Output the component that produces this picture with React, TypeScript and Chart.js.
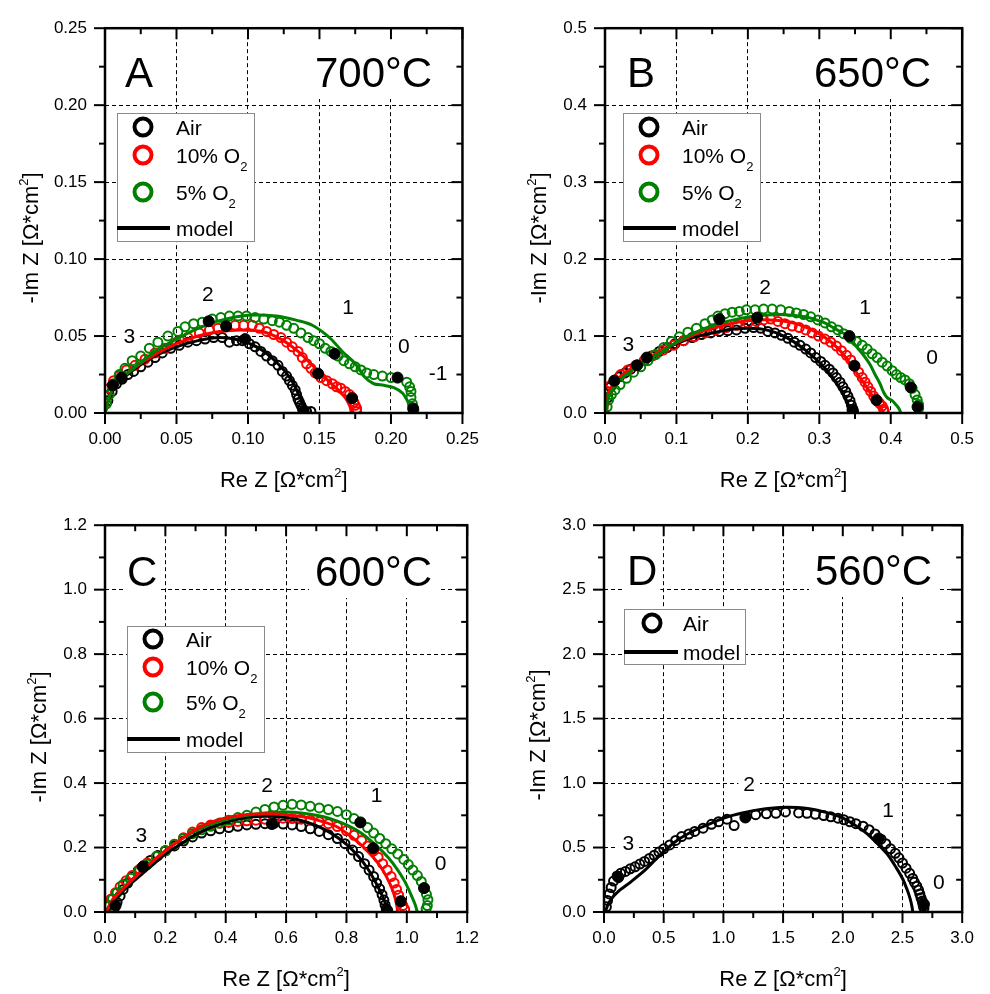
import React, { useEffect, useRef } from 'react';
import { Chart, registerables } from 'chart.js';

Chart.register(...registerables);

type Pt = [number, number];
type Seg = { t: string; s?: 'sup' | 'sub' };

const FONT = '"Liberation Sans", Arial, Helvetica, sans-serif';
const BLACK = '#000000';
const RED = '#ff0000';
const GREEN = '#008000';
const W = 495;
const H = 497;

// ---------------- Panel A : 700 °C ----------------
const aTicksX = ['0.00', '0.05', '0.10', '0.15', '0.20', '0.25'];
const aTicksY = ['0.00', '0.05', '0.10', '0.15', '0.20', '0.25'];
const aAir: Pt[] = [
  [0.002, 0.008], [0.005, 0.014], [0.008, 0.019], [0.012, 0.022], [0.016, 0.025], [0.02, 0.027], [0.025, 0.03],
  [0.03, 0.033], [0.035, 0.036], [0.04, 0.039], [0.046, 0.042], [0.052, 0.044], [0.058, 0.046], [0.064, 0.047],
  [0.07, 0.048], [0.076, 0.049], [0.082, 0.049], [0.087, 0.046], [0.092, 0.047], [0.096, 0.047], [0.101, 0.045],
  [0.105, 0.043], [0.109, 0.04], [0.113, 0.037], [0.117, 0.034], [0.121, 0.031], [0.124, 0.027], [0.127, 0.024],
  [0.129, 0.021], [0.131, 0.018], [0.133, 0.015], [0.134, 0.012], [0.135, 0.009], [0.136, 0.007], [0.137, 0.005],
  [0.138, 0.003], [0.139, 0.001], [0.141, 0.001], [0.144, 0.001],
];
const aO2_10: Pt[] = [
  [0.003, 0.016], [0.006, 0.021], [0.01, 0.024], [0.015, 0.028], [0.021, 0.031], [0.028, 0.035], [0.035, 0.039],
  [0.042, 0.042], [0.05, 0.046], [0.058, 0.049], [0.066, 0.052], [0.073, 0.054], [0.079, 0.055], [0.085, 0.056],
  [0.091, 0.057], [0.097, 0.057], [0.103, 0.057], [0.108, 0.055], [0.113, 0.053], [0.118, 0.051], [0.123, 0.049],
  [0.127, 0.046], [0.131, 0.043], [0.135, 0.04], [0.138, 0.036], [0.141, 0.032], [0.144, 0.029], [0.147, 0.026],
  [0.151, 0.023], [0.155, 0.021], [0.159, 0.019], [0.162, 0.017], [0.165, 0.016], [0.168, 0.014], [0.171, 0.012],
  [0.173, 0.01], [0.174, 0.007], [0.175, 0.005], [0.176, 0.003], [0.176, 0.001],
];
const aO2_5: Pt[] = [
  [0.001, 0.006], [0.003, 0.012], [0.006, 0.019], [0.01, 0.025], [0.014, 0.029], [0.019, 0.034], [0.025, 0.037],
  [0.031, 0.042], [0.037, 0.046], [0.044, 0.05], [0.051, 0.053], [0.056, 0.056], [0.062, 0.058], [0.068, 0.059],
  [0.075, 0.061], [0.081, 0.062], [0.087, 0.063], [0.093, 0.063], [0.099, 0.063], [0.105, 0.062], [0.111, 0.061],
  [0.117, 0.06], [0.122, 0.059], [0.127, 0.057], [0.132, 0.055], [0.137, 0.052], [0.142, 0.049], [0.146, 0.047],
  [0.15, 0.045], [0.154, 0.042], [0.158, 0.04], [0.163, 0.037], [0.167, 0.034], [0.171, 0.032], [0.175, 0.03],
  [0.179, 0.028], [0.183, 0.026], [0.188, 0.025], [0.194, 0.024], [0.2, 0.023], [0.211, 0.02], [0.213, 0.017],
  [0.214, 0.014], [0.214, 0.01], [0.215, 0.006], [0.216, 0.002],
];
const aModelAir: Pt[] = [
  [0, 0], [0.004, 0.012], [0.01, 0.02], [0.02, 0.028], [0.035, 0.037], [0.05, 0.043], [0.065, 0.047], [0.08, 0.049],
  [0.095, 0.047], [0.108, 0.042], [0.12, 0.033], [0.13, 0.022], [0.136, 0.011], [0.139, 0.004], [0.14, 0],
];
const aModel10: Pt[] = [
  [0, 0], [0.004, 0.013], [0.01, 0.021], [0.02, 0.029], [0.035, 0.038], [0.05, 0.045], [0.065, 0.05], [0.08, 0.053],
  [0.095, 0.054], [0.11, 0.053], [0.123, 0.048], [0.135, 0.04], [0.145, 0.031], [0.155, 0.022], [0.163, 0.015],
  [0.168, 0.01], [0.171, 0.005], [0.172, 0.002], [0.172, 0],
];
const aModel5: Pt[] = [
  [0, 0], [0.004, 0.013], [0.01, 0.021], [0.02, 0.029], [0.035, 0.04], [0.05, 0.048], [0.065, 0.055], [0.08, 0.06],
  [0.1, 0.0635], [0.12, 0.063], [0.135, 0.06], [0.145, 0.057], [0.157, 0.049], [0.166, 0.04], [0.175, 0.032],
  [0.182, 0.023], [0.188, 0.019], [0.195, 0.018], [0.202, 0.0165], [0.208, 0.013], [0.212, 0.007], [0.214, 0.002],
  [0.215, 0],
];
const aDecades: Pt[] = [
  [0.0054, 0.018], [0.0115, 0.023], [0.0725, 0.0596], [0.0847, 0.0564], [0.098, 0.048], [0.149, 0.0256],
  [0.1606, 0.0385], [0.1728, 0.0096], [0.2046, 0.023], [0.2155, 0.003], [0.139, 0.001],
];
const aNotes: [string, number, number][] = [
  ['3', 0.017, 0.05], ['2', 0.072, 0.077], ['1', 0.17, 0.069], ['0', 0.209, 0.0436], ['-1', 0.233, 0.0256],
];

// ---------------- Panel B : 650 °C ----------------
const bTicksX = ['0.0', '0.1', '0.2', '0.3', '0.4', '0.5'];
const bTicksY = ['0.0', '0.1', '0.2', '0.3', '0.4', '0.5'];
const bAir: Pt[] = [
  [0.004, 0.02], [0.008, 0.034], [0.013, 0.041], [0.02, 0.047], [0.028, 0.052], [0.036, 0.057], [0.045, 0.062],
  [0.055, 0.068], [0.065, 0.074], [0.076, 0.08], [0.087, 0.085], [0.098, 0.09], [0.11, 0.094], [0.122, 0.098],
  [0.135, 0.102], [0.148, 0.104], [0.16, 0.106], [0.172, 0.107], [0.184, 0.108], [0.196, 0.11], [0.208, 0.111],
  [0.218, 0.11], [0.228, 0.106], [0.238, 0.104], [0.247, 0.101], [0.256, 0.097], [0.265, 0.092], [0.273, 0.088],
  [0.281, 0.083], [0.288, 0.078], [0.295, 0.072], [0.302, 0.067], [0.308, 0.062], [0.314, 0.057], [0.319, 0.052],
  [0.324, 0.046], [0.329, 0.04], [0.333, 0.034], [0.337, 0.028], [0.34, 0.022], [0.343, 0.016], [0.345, 0.01],
  [0.347, 0.005], [0.348, 0.001],
];
const bO2_10: Pt[] = [
  [0.004, 0.028], [0.008, 0.036], [0.014, 0.043], [0.022, 0.05], [0.032, 0.056], [0.043, 0.062], [0.055, 0.068],
  [0.068, 0.075], [0.082, 0.082], [0.096, 0.088], [0.11, 0.094], [0.125, 0.099], [0.14, 0.104], [0.155, 0.108],
  [0.17, 0.111], [0.185, 0.114], [0.2, 0.117], [0.212, 0.119], [0.222, 0.121], [0.232, 0.122], [0.242, 0.119],
  [0.252, 0.116], [0.262, 0.113], [0.272, 0.111], [0.281, 0.108], [0.29, 0.104], [0.299, 0.1], [0.308, 0.096],
  [0.316, 0.092], [0.324, 0.087], [0.331, 0.081], [0.338, 0.075], [0.344, 0.069], [0.35, 0.061], [0.355, 0.053],
  [0.36, 0.046], [0.364, 0.04], [0.368, 0.034], [0.372, 0.028], [0.376, 0.022], [0.38, 0.017], [0.384, 0.013],
  [0.388, 0.009], [0.39, 0.005], [0.391, 0.002],
];
const bO2_5: Pt[] = [
  [0.003, 0.008], [0.005, 0.017], [0.009, 0.024], [0.014, 0.03], [0.021, 0.037], [0.03, 0.045], [0.04, 0.053],
  [0.05, 0.06], [0.06, 0.068], [0.071, 0.076], [0.082, 0.085], [0.093, 0.093], [0.104, 0.099], [0.116, 0.105],
  [0.128, 0.11], [0.14, 0.116], [0.15, 0.121], [0.158, 0.126], [0.168, 0.129], [0.178, 0.131], [0.188, 0.132],
  [0.198, 0.134], [0.21, 0.134], [0.222, 0.135], [0.234, 0.135], [0.246, 0.134], [0.258, 0.132], [0.268, 0.13],
  [0.278, 0.128], [0.288, 0.125], [0.298, 0.121], [0.308, 0.117], [0.317, 0.112], [0.326, 0.108], [0.334, 0.103],
  [0.344, 0.097], [0.352, 0.093], [0.36, 0.088], [0.367, 0.083], [0.374, 0.077], [0.381, 0.072], [0.388, 0.066],
  [0.395, 0.061], [0.402, 0.055], [0.408, 0.05], [0.414, 0.046], [0.42, 0.043], [0.426, 0.038], [0.43, 0.032],
  [0.434, 0.024], [0.437, 0.017], [0.439, 0.011], [0.439, 0.006],
];
const bModelAir: Pt[] = [
  [0.002, 0], [0.004, 0.02], [0.01, 0.034], [0.02, 0.045], [0.04, 0.058], [0.06, 0.07], [0.08, 0.081], [0.1, 0.09],
  [0.12, 0.097], [0.14, 0.102], [0.16, 0.106], [0.18, 0.109], [0.2, 0.11], [0.22, 0.109], [0.24, 0.104],
  [0.26, 0.095], [0.28, 0.082], [0.3, 0.066], [0.315, 0.05], [0.328, 0.033], [0.337, 0.018], [0.342, 0.007],
  [0.344, 0],
];
const bModel10: Pt[] = [
  [0.002, 0], [0.004, 0.022], [0.01, 0.035], [0.02, 0.046], [0.04, 0.06], [0.06, 0.071], [0.08, 0.082], [0.1, 0.091],
  [0.125, 0.102], [0.15, 0.11], [0.175, 0.116], [0.2, 0.12], [0.23, 0.121], [0.26, 0.118], [0.285, 0.11],
  [0.308, 0.098], [0.325, 0.085], [0.338, 0.071], [0.35, 0.055], [0.36, 0.042], [0.368, 0.031], [0.376, 0.02],
  [0.383, 0.011], [0.388, 0.004], [0.39, 0],
];
const bModel5: Pt[] = [
  [0.002, 0], [0.004, 0.018], [0.01, 0.03], [0.02, 0.042], [0.04, 0.057], [0.06, 0.069], [0.08, 0.08], [0.1, 0.092],
  [0.125, 0.104], [0.155, 0.115], [0.18, 0.121], [0.21, 0.126], [0.245, 0.128], [0.28, 0.125], [0.305, 0.118],
  [0.325, 0.108], [0.34, 0.1], [0.353, 0.085], [0.362, 0.075], [0.371, 0.063], [0.378, 0.05], [0.385, 0.038],
  [0.39, 0.027], [0.395, 0.02], [0.402, 0.016], [0.408, 0.01], [0.412, 0.005], [0.414, 0],
];
const bDecades: Pt[] = [
  [0.013, 0.042], [0.045, 0.062], [0.0584, 0.072], [0.16, 0.122], [0.213, 0.124], [0.342, 0.1], [0.349, 0.0615],
  [0.38, 0.0167], [0.428, 0.0333], [0.4375, 0.008], [0.3465, 0.004],
];
const bNotes: [string, number, number][] = [
  ['3', 0.0326, 0.0897], ['2', 0.224, 0.164], ['1', 0.364, 0.137], ['0', 0.458, 0.073],
];

// ---------------- Panel C : 600 °C ----------------
const cTicksX = ['0.0', '0.2', '0.4', '0.6', '0.8', '1.0', '1.2'];
const cTicksY = ['0.0', '0.2', '0.4', '0.6', '0.8', '1.0', '1.2'];
const cAir: Pt[] = [
  [0.03, 0.01], [0.04, 0.03], [0.05, 0.05], [0.06, 0.07], [0.075, 0.09], [0.09, 0.11], [0.11, 0.128], [0.13, 0.145],
  [0.15, 0.16], [0.175, 0.175], [0.2, 0.19], [0.23, 0.205], [0.26, 0.22], [0.29, 0.233], [0.32, 0.245],
  [0.35, 0.252], [0.38, 0.258], [0.41, 0.262], [0.44, 0.266], [0.47, 0.27], [0.5, 0.272], [0.53, 0.274],
  [0.56, 0.275], [0.59, 0.273], [0.62, 0.27], [0.65, 0.265], [0.68, 0.258], [0.71, 0.25], [0.74, 0.24],
  [0.77, 0.228], [0.795, 0.212], [0.82, 0.192], [0.84, 0.172], [0.86, 0.15], [0.875, 0.13], [0.89, 0.11],
  [0.9, 0.09], [0.91, 0.072], [0.918, 0.054], [0.924, 0.037], [0.928, 0.022], [0.932, 0.01],
];
const cO2_10: Pt[] = [
  [0.01, 0.02], [0.02, 0.04], [0.035, 0.06], [0.05, 0.078], [0.07, 0.097], [0.09, 0.113], [0.115, 0.133],
  [0.14, 0.152], [0.17, 0.172], [0.2, 0.19], [0.23, 0.21], [0.26, 0.23], [0.29, 0.248], [0.32, 0.262], [0.35, 0.27],
  [0.38, 0.275], [0.41, 0.278], [0.44, 0.281], [0.47, 0.283], [0.5, 0.285], [0.53, 0.288], [0.56, 0.29],
  [0.59, 0.291], [0.62, 0.29], [0.65, 0.288], [0.68, 0.285], [0.71, 0.28], [0.74, 0.274], [0.77, 0.265],
  [0.8, 0.252], [0.825, 0.238], [0.85, 0.222], [0.87, 0.205], [0.89, 0.19], [0.905, 0.17], [0.92, 0.15],
  [0.935, 0.13], [0.948, 0.11], [0.958, 0.09], [0.966, 0.07], [0.973, 0.052], [0.98, 0.035], [0.987, 0.02],
  [0.993, 0.008],
];
const cO2_5: Pt[] = [
  [0.015, 0.02], [0.025, 0.04], [0.04, 0.06], [0.06, 0.085], [0.085, 0.105], [0.11, 0.125], [0.14, 0.148],
  [0.17, 0.172], [0.2, 0.19], [0.23, 0.21], [0.26, 0.228], [0.29, 0.243], [0.32, 0.255], [0.35, 0.266],
  [0.38, 0.276], [0.41, 0.285], [0.44, 0.293], [0.47, 0.3], [0.5, 0.31], [0.53, 0.318], [0.56, 0.326],
  [0.59, 0.331], [0.62, 0.334], [0.65, 0.332], [0.68, 0.328], [0.71, 0.323], [0.74, 0.318], [0.77, 0.312],
  [0.8, 0.302], [0.825, 0.29], [0.848, 0.278], [0.87, 0.262], [0.89, 0.245], [0.91, 0.228], [0.93, 0.212],
  [0.95, 0.196], [0.97, 0.18], [0.99, 0.163], [1.005, 0.147], [1.02, 0.13], [1.035, 0.113], [1.048, 0.095],
  [1.058, 0.075], [1.065, 0.055], [1.07, 0.038], [1.068, 0.02], [1.064, 0.01],
];
const cModelAir: Pt[] = [
  [0.01, 0], [0.02, 0.02], [0.04, 0.045], [0.07, 0.075], [0.1, 0.1], [0.15, 0.14], [0.2, 0.18], [0.25, 0.21],
  [0.3, 0.24], [0.35, 0.262], [0.4, 0.278], [0.45, 0.29], [0.5, 0.296], [0.55, 0.297], [0.6, 0.293], [0.65, 0.284],
  [0.7, 0.268], [0.75, 0.244], [0.8, 0.21], [0.84, 0.172], [0.87, 0.135], [0.895, 0.095], [0.915, 0.058],
  [0.93, 0.025], [0.938, 0],
];
const cModel10: Pt[] = [
  [0.005, 0], [0.015, 0.02], [0.03, 0.042], [0.06, 0.072], [0.1, 0.108], [0.15, 0.15], [0.2, 0.19], [0.25, 0.225],
  [0.3, 0.256], [0.35, 0.278], [0.4, 0.292], [0.45, 0.3], [0.5, 0.304], [0.55, 0.305], [0.6, 0.302], [0.65, 0.296],
  [0.7, 0.286], [0.765, 0.266], [0.81, 0.238], [0.852, 0.205], [0.89, 0.168], [0.917, 0.135], [0.935, 0.105],
  [0.95, 0.075], [0.96, 0.048], [0.966, 0.024], [0.97, 0],
];
const cModel5: Pt[] = [
  [0.005, 0], [0.015, 0.022], [0.03, 0.045], [0.06, 0.075], [0.1, 0.11], [0.15, 0.152], [0.2, 0.19], [0.25, 0.224],
  [0.3, 0.252], [0.35, 0.272], [0.4, 0.287], [0.45, 0.297], [0.5, 0.304], [0.55, 0.309], [0.6, 0.31],
  [0.65, 0.307], [0.7, 0.3], [0.744, 0.29], [0.8, 0.27], [0.852, 0.243], [0.9, 0.205], [0.939, 0.168],
  [0.97, 0.13], [0.993, 0.095], [1.01, 0.062], [1.026, 0.027], [1.035, 0],
];
const cDecades: Pt[] = [
  [0.035, 0.02], [0.125, 0.14], [0.553, 0.273], [0.846, 0.278], [0.888, 0.198], [0.98, 0.033], [1.057, 0.074],
  [0.935, 0.005],
];
const cNotes: [string, number, number][] = [
  ['3', 0.12, 0.238], ['2', 0.537, 0.392], ['1', 0.9, 0.361], ['0', 1.112, 0.151],
];

// ---------------- Panel D : 560 °C ----------------
const dTicksX = ['0.0', '0.5', '1.0', '1.5', '2.0', '2.5', '3.0'];
const dTicksY = ['0.0', '0.5', '1.0', '1.5', '2.0', '2.5', '3.0'];
const dAir: Pt[] = [
  [0.02, 0.04], [0.03, 0.09], [0.045, 0.14], [0.06, 0.19], [0.08, 0.24], [0.11, 0.28], [0.14, 0.3], [0.18, 0.315],
  [0.22, 0.335], [0.26, 0.35], [0.3, 0.372], [0.34, 0.392], [0.38, 0.415], [0.42, 0.44], [0.46, 0.465],
  [0.5, 0.49], [0.55, 0.52], [0.6, 0.555], [0.65, 0.585], [0.71, 0.605], [0.76, 0.625], [0.83, 0.65], [0.9, 0.68],
  [0.96, 0.7], [1.03, 0.72], [1.09, 0.67], [1.19, 0.737], [1.27, 0.755], [1.36, 0.762], [1.44, 0.765],
  [1.52, 0.776], [1.63, 0.768], [1.7, 0.765], [1.77, 0.758], [1.84, 0.748], [1.9, 0.738], [1.96, 0.728],
  [2.01, 0.715], [2.06, 0.7], [2.11, 0.685], [2.17, 0.665], [2.22, 0.638], [2.27, 0.605], [2.32, 0.565],
  [2.36, 0.53], [2.4, 0.49], [2.44, 0.455], [2.47, 0.42], [2.5, 0.38], [2.53, 0.34], [2.56, 0.3], [2.585, 0.26],
  [2.6, 0.23], [2.62, 0.2], [2.635, 0.17], [2.645, 0.14], [2.655, 0.11], [2.665, 0.085], [2.67, 0.065],
  [2.675, 0.045], [2.68, 0.03],
];
const dModelAir: Pt[] = [
  [0.01, 0], [0.03, 0.05], [0.06, 0.1], [0.12, 0.16], [0.22, 0.23], [0.35, 0.33], [0.49, 0.46], [0.62, 0.56],
  [0.76, 0.634], [0.9, 0.69], [1.03, 0.737], [1.17, 0.77], [1.3, 0.794], [1.42, 0.807], [1.52, 0.812],
  [1.62, 0.81], [1.72, 0.8], [1.85, 0.775], [1.98, 0.737], [2.1, 0.675], [2.2, 0.61], [2.3, 0.52], [2.38, 0.44],
  [2.45, 0.34], [2.5, 0.26], [2.54, 0.17], [2.565, 0.1], [2.58, 0.04], [2.586, 0],
];
const dDecades: Pt[] = [[0.12, 0.27], [1.184, 0.733], [2.3, 0.57], [2.68, 0.06]];
const dNotes: [string, number, number][] = [
  ['3', 0.203, 0.532], ['2', 1.216, 0.988], ['1', 2.38, 0.787], ['0', 2.805, 0.23],
];

// ---------------- labels ----------------
const LBL_AIR: Seg[] = [{ t: 'Air' }];
const LBL_10: Seg[] = [{ t: '10% O' }, { t: '2', s: 'sub' }];
const LBL_5: Seg[] = [{ t: '5% O' }, { t: '2', s: 'sub' }];
const LBL_MODEL: Seg[] = [{ t: 'model' }];
const X_TITLE: Seg[] = [{ t: 'Re Z [Ω*cm' }, { t: '2', s: 'sup' }, { t: ']' }];
const Y_TITLE: Seg[] = [{ t: '-Im Z [Ω*cm' }, { t: '2', s: 'sup' }, { t: ']' }];

function drawSegs(ctx: CanvasRenderingContext2D, segs: Seg[], x: number, y: number, size: number, align: 'left' | 'center') {
  const small = Math.round(size * 0.6);
  const widths = segs.map((g) => {
    ctx.font = `${g.s ? small : size}px ${FONT}`;
    return ctx.measureText(g.t).width;
  });
  const total = widths.reduce((a, b) => a + b, 0);
  let cx = align === 'center' ? x - total / 2 : x;
  ctx.textAlign = 'left';
  ctx.textBaseline = 'alphabetic';
  segs.forEach((g, i) => {
    ctx.font = `${g.s ? small : size}px ${FONT}`;
    const dy = g.s === 'sup' ? -size * 0.45 : g.s === 'sub' ? size * 0.42 : 0;
    ctx.fillText(g.t, cx, y + dy);
    cx += widths[i];
  });
}

const legend3 = (x: number, y: number, dys: number[]) => ({
  x, y, w: 137, h: dys[3] + 13, cx: 26, tx: 59, lineEnd: 53,
  items: [
    { kind: 'pt', color: BLACK, label: LBL_AIR, dy: dys[0] },
    { kind: 'pt', color: RED, label: LBL_10, dy: dys[1] },
    { kind: 'pt', color: GREEN, label: LBL_5, dy: dys[2] },
    { kind: 'line', label: LBL_MODEL, dy: dys[3] },
  ],
});

const panels = [
  {
    id: 'A', left: 0, top: 0, plot: { l: 105, t: 23, r: 474, b: 413 },
    xMax: 0.25, yMax: 0.25, xStep: 0.05, yStep: 0.05, xTicks: aTicksX, yTicks: aTicksY,
    letter: 'A', temp: '700°C', letterX: 125, tempX: 315, baseY: 87,
    series: [{ color: BLACK, pts: aAir }, { color: RED, pts: aO2_10 }, { color: GREEN, pts: aO2_5 }],
    models: [{ color: GREEN, pts: aModel5 }, { color: RED, pts: aModel10 }, { color: BLACK, pts: aModelAir }],
    markers: aDecades, notes: aNotes,
    legend: legend3(117, 113, [14, 42, 79, 115]),
    yTitleX: 38, yTitleY: 238,
  },
  {
    id: 'B', left: 495, top: 0, plot: { l: 110, t: 23, r: 478, b: 413 },
    xMax: 0.5, yMax: 0.5, xStep: 0.1, yStep: 0.1, xTicks: bTicksX, yTicks: bTicksY,
    letter: 'B', temp: '650°C', letterX: 132, tempX: 319, baseY: 87,
    series: [{ color: BLACK, pts: bAir }, { color: RED, pts: bO2_10 }, { color: GREEN, pts: bO2_5 }],
    models: [{ color: GREEN, pts: bModel5 }, { color: RED, pts: bModel10 }, { color: BLACK, pts: bModelAir }],
    markers: bDecades, notes: bNotes,
    legend: legend3(128, 113, [14, 42, 79, 115]),
    yTitleX: 51, yTitleY: 238,
  },
  {
    id: 'C', left: 0, top: 497, plot: { l: 105, t: 26, r: 474, b: 415 },
    xMax: 1.2, yMax: 1.2, xStep: 0.2, yStep: 0.2, xTicks: cTicksX, yTicks: cTicksY,
    letter: 'C', temp: '600°C', letterX: 127, tempX: 315, baseY: 89,
    series: [{ color: BLACK, pts: cAir }, { color: RED, pts: cO2_10 }, { color: GREEN, pts: cO2_5 }],
    models: [{ color: RED, pts: cModel10 }, { color: GREEN, pts: cModel5 }, { color: BLACK, pts: cModelAir }],
    markers: cDecades, notes: cNotes,
    legend: legend3(127, 129, [13, 41, 76, 113]),
    yTitleX: 46, yTitleY: 240,
  },
  {
    id: 'D', left: 495, top: 497, plot: { l: 109, t: 26, r: 478, b: 415 },
    xMax: 3.0, yMax: 3.0, xStep: 0.5, yStep: 0.5, xTicks: dTicksX, yTicks: dTicksY,
    letter: 'D', temp: '560°C', letterX: 132, tempX: 320, baseY: 88,
    series: [{ color: BLACK, pts: dAir }],
    models: [{ color: BLACK, pts: dModelAir }],
    markers: dDecades, notes: dNotes,
    legend: {
      x: 129, y: 112, w: 121, h: 55, cx: 28, tx: 59, lineEnd: 54,
      items: [{ kind: 'pt', color: BLACK, label: LBL_AIR, dy: 14 }, { kind: 'line', label: LBL_MODEL, dy: 43 }],
    },
    yTitleX: 50, yTitleY: 238,
  },
];

const toXY = (pts: Pt[]) => pts.map(([x, y]) => ({ x, y }));

function makePlugin(p: any) {
  return {
    id: 'deco' + p.id,
    beforeDatasetsDraw(chart: any) {
      const ctx: CanvasRenderingContext2D = chart.ctx;
      const ca = chart.chartArea;
      const xs = chart.scales.x;
      const ys = chart.scales.y;
      ctx.save();
      ctx.font = `42px ${FONT}`;
      const tw = ctx.measureText(p.temp).width;
      const lw = ctx.measureText(p.letter).width;
      ctx.fillStyle = '#ffffff';
      ctx.fillRect(p.tempX - 6, ca.top + 2, tw + 12, p.baseY + 12 - ca.top - 2);
      ctx.fillRect(p.letterX - 3, p.baseY - 34, lw + 6, 41);
      ctx.fillStyle = '#000000';
      ctx.textAlign = 'left';
      ctx.textBaseline = 'alphabetic';
      ctx.fillText(p.letter, p.letterX, p.baseY);
      ctx.fillText(p.temp, p.tempX, p.baseY);
      ctx.font = `21px ${FONT}`;
      ctx.textAlign = 'center';
      ctx.textBaseline = 'middle';
      for (const [t, x, y] of p.notes) {
        const px = xs.getPixelForValue(x);
        const py = ys.getPixelForValue(y);
        const w = ctx.measureText(t).width;
        ctx.fillStyle = '#ffffff';
        ctx.fillRect(px - w / 2 - 5, py - 11, w + 10, 22);
        ctx.fillStyle = '#000000';
        ctx.fillText(t, px, py + 1);
      }
      ctx.restore();
    },
    afterDatasetsDraw(chart: any) {
      const ctx: CanvasRenderingContext2D = chart.ctx;
      const L = p.legend;
      ctx.save();
      ctx.fillStyle = '#ffffff';
      ctx.fillRect(L.x, L.y, L.w, L.h);
      ctx.strokeStyle = '#8a8a8a';
      ctx.lineWidth = 1;
      ctx.strokeRect(L.x + 0.5, L.y + 0.5, L.w, L.h);
      for (const it of L.items) {
        const cy = L.y + it.dy;
        ctx.beginPath();
        if (it.kind === 'pt') {
          ctx.arc(L.x + L.cx, cy, 8.5, 0, Math.PI * 2);
          ctx.strokeStyle = it.color;
        } else {
          ctx.moveTo(L.x, cy);
          ctx.lineTo(L.x + L.lineEnd, cy);
          ctx.strokeStyle = '#000000';
        }
        ctx.lineWidth = 4;
        ctx.stroke();
        ctx.fillStyle = '#000000';
        drawSegs(ctx, it.label, L.x + L.tx, cy + 7.5, 21, 'left');
      }
      ctx.restore();
    },
    afterDraw(chart: any) {
      const ctx: CanvasRenderingContext2D = chart.ctx;
      const { left: l, top: t, right: r, bottom: b } = chart.chartArea;
      const xs = chart.scales.x;
      const ys = chart.scales.y;
      ctx.save();
      ctx.setLineDash([]);
      ctx.strokeStyle = '#000000';
      ctx.lineWidth = 2;
      const seg = (x1: number, y1: number, x2: number, y2: number) => {
        ctx.beginPath();
        ctx.moveTo(x1, y1);
        ctx.lineTo(x2, y2);
        ctx.stroke();
      };
      const nx = Math.round(p.xMax / p.xStep) * 2;
      for (let k = 0; k <= nx; k++) {
        const len = k % 2 === 0 ? 11 : 6;
        const px = xs.getPixelForValue((k * p.xStep) / 2);
        seg(px, b, px, b + len);
        seg(px, t, px, t + len);
      }
      const ny = Math.round(p.yMax / p.yStep) * 2;
      for (let k = 0; k <= ny; k++) {
        const len = k % 2 === 0 ? 11 : 6;
        const py = ys.getPixelForValue((k * p.yStep) / 2);
        seg(l - len, py, l, py);
        seg(r - len, py, r, py);
      }
      ctx.lineWidth = 2.5;
      ctx.strokeRect(l, t, r - l, b - t);
      ctx.fillStyle = '#000000';
      drawSegs(ctx, X_TITLE, (l + r) / 2, b + 74, 22, 'center');
      ctx.translate(p.yTitleX, p.yTitleY);
      ctx.rotate(-Math.PI / 2);
      drawSegs(ctx, Y_TITLE, 0, 0, 22, 'center');
      ctx.restore();
    },
  };
}

function Panel({ p }: { p: any }) {
  const ref = useRef<HTMLCanvasElement | null>(null);
  useEffect(() => {
    if (!ref.current) return;
    const datasets: any[] = [
      {
        data: toXY(p.markers), showLine: false, pointRadius: 5.5, pointBackgroundColor: '#000000',
        pointBorderColor: '#000000', pointBorderWidth: 1,
      },
      ...p.models.map((m: any) => ({
        data: toXY(m.pts), showLine: true, borderColor: m.color, borderWidth: 3, pointRadius: 0,
        tension: 0.3, fill: false,
      })),
      ...p.series.slice().reverse().map((s: any) => ({
        data: toXY(s.pts), showLine: false, pointRadius: 4.5, pointBorderWidth: 2,
        pointBorderColor: s.color, pointBackgroundColor: 'rgba(0,0,0,0)',
      })),
    ];
    const tickFont = { family: FONT, size: 17 };
    const chart = new Chart(ref.current, {
      type: 'scatter',
      data: { datasets },
      options: {
        responsive: false,
        animation: false,
        devicePixelRatio: 1,
        events: [],
        layout: { padding: { left: 0, top: p.plot.t, right: W - p.plot.r, bottom: 0 } },
        plugins: { legend: { display: false }, tooltip: { enabled: false } },
        scales: {
          x: {
            type: 'linear', min: 0, max: p.xMax,
            ticks: {
              stepSize: p.xStep, autoSkip: false, maxRotation: 0, padding: 16, color: '#000000', font: tickFont,
              callback: (v: any) => p.xTicks[Math.round(Number(v) / p.xStep)] ?? '',
            },
            grid: { color: '#000000', lineWidth: 1, drawTicks: false },
            border: { display: false, dash: [4, 3] },
            afterFit: (s: any) => { s.height = H - p.plot.b; },
          },
          y: {
            type: 'linear', min: 0, max: p.yMax,
            ticks: {
              stepSize: p.yStep, autoSkip: false, padding: 18, color: '#000000', font: tickFont,
              callback: (v: any) => p.yTicks[Math.round(Number(v) / p.yStep)] ?? '',
            },
            grid: { color: '#000000', lineWidth: 1, drawTicks: false },
            border: { display: false, dash: [4, 3] },
            afterFit: (s: any) => { s.width = p.plot.l; },
          },
        },
      } as any,
      plugins: [makePlugin(p)],
    });
    return () => chart.destroy();
  }, [p]);
  return (
    <canvas
      ref={ref}
      width={W}
      height={H}
      style={{ position: 'absolute', left: p.left, top: p.top, width: W, height: H }}
    />
  );
}

export default function App() {
  return (
    <div style={{ position: 'absolute', left: 0, top: 0, width: 990, height: 994, background: '#ffffff' }}>
      {panels.map((p) => (
        <Panel key={p.id} p={p} />
      ))}
    </div>
  );
}
